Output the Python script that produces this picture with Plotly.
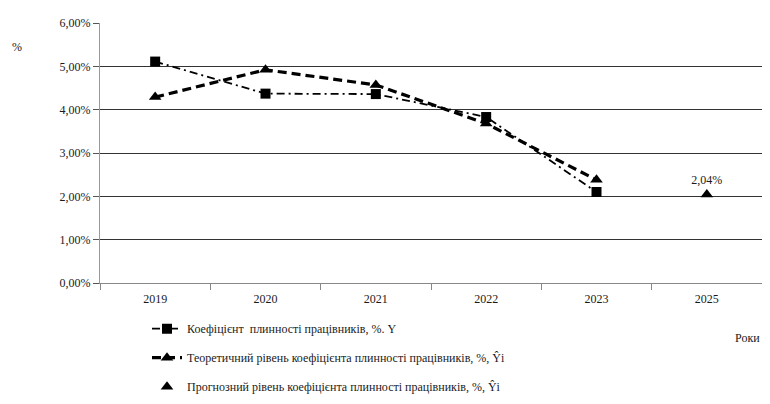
import plotly.graph_objects as go

years = ["2019", "2020", "2021", "2022", "2023", "2025"]
actual_years = ["2019", "2020", "2021", "2022", "2023"]
actual = [0.0511, 0.0437, 0.0436, 0.0383, 0.0210]
theoretical = [0.0429, 0.0492, 0.0457, 0.0368, 0.0238]
forecast_years = ["2025"]
forecast = [0.0204]
forecast_labels = ["2,04%"]
y_ticks = [0, 0.01, 0.02, 0.03, 0.04, 0.05, 0.06]
y_tick_text = ["0,00%", "1,00%", "2,00%", "3,00%", "4,00%", "5,00%", "6,00%"]

name_actual = "Коефіцієнт  плинності працівників, %. Y"
name_theor = "Теоретичний рівень коефіцієнта плинності працівників, %, Ŷi"
name_fore = "Прогнозний рівень коефіцієнта плинності працівників, %, Ŷi"

FONT = "'Liberation Serif', 'Times New Roman', serif"
TXT = "#1a1a1a"
FS = 12

fig = go.Figure()
fig.add_trace(go.Scatter(
    x=actual_years, y=actual, name=name_actual, legendgroup="a",
    mode="lines+markers",
    line=dict(color="black", width=1.8, dash="8px,4px,2px,4px"),
    marker=dict(symbol="square", size=10, color="black"),
))
fig.add_trace(go.Scatter(
    x=actual_years, y=theoretical, name=name_theor, legendgroup="b",
    mode="lines+markers",
    line=dict(color="black", width=3.2, dash="9px,5px"),
    marker=dict(symbol="triangle-up", size=11, color="black"),
))
fig.add_trace(go.Scatter(
    x=forecast_years, y=forecast, name=name_fore, legendgroup="c",
    mode="markers+text", text=forecast_labels, textposition="top center",
    textfont=dict(family=FONT, size=FS, color=TXT),
    marker=dict(symbol="triangle-up", size=11, color="black"),
))

fig.update_layout(
    width=754, height=388,
    margin=dict(l=92, r=0, t=15, b=113),
    paper_bgcolor="white", plot_bgcolor="white",
    font=dict(family=FONT, size=FS, color=TXT),
    showlegend=True,
    legend=dict(
        x=0.071, y=0.211, xref="paper", yref="container",
        xanchor="left", yanchor="top",
        orientation="v", tracegroupgap=10,
        font=dict(family=FONT, size=FS, color=TXT),
        itemwidth=30, bgcolor="rgba(0,0,0,0)",
    ),
    xaxis=dict(
        type="category", categoryorder="array", categoryarray=years,
        range=[-0.5, 5.5], automargin=False,
        showline=True, linecolor="#888", linewidth=1,
        ticks="outside", tickson="boundaries", ticklen=6, tickcolor="#888",
        ticklabelstandoff=5,
        showgrid=False, tickfont=dict(family=FONT, size=FS, color=TXT),
        fixedrange=True,
    ),
    yaxis=dict(
        range=[0, 0.06], tickvals=y_ticks, ticktext=y_tick_text,
        showline=True, linecolor="#999", linewidth=1, automargin=False,
        ticks="outside", ticklen=6, tickcolor="#555",
        showgrid=True, gridcolor="#333", gridwidth=1.3,
        zeroline=False, tickfont=dict(family=FONT, size=FS, color=TXT),
        fixedrange=True,
    ),
    annotations=[
        dict(text="%", xref="paper", yref="paper", x=-0.125, y=0.908,
             showarrow=False, xanchor="center", yanchor="middle",
             font=dict(family=FONT, size=FS, color=TXT)),
        dict(text="Роки", xref="paper", yref="paper", x=1.0, y=-0.212,
             showarrow=False, xanchor="right", yanchor="middle",
             font=dict(family=FONT, size=FS, color=TXT)),
    ],
)

fig.write_html("out.html")
